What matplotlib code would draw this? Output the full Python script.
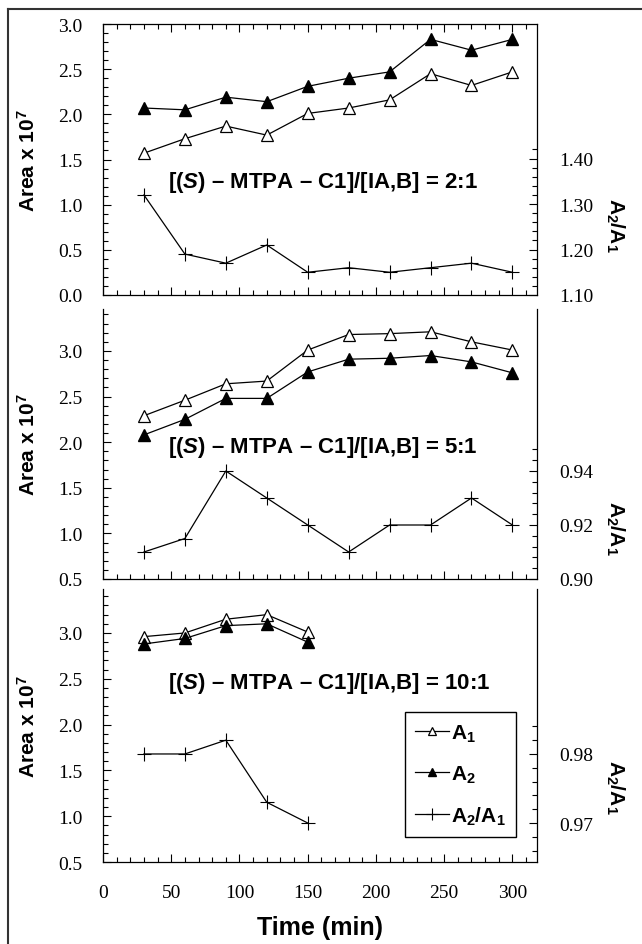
import numpy as np
import matplotlib.pyplot as plt
from matplotlib.lines import Line2D
from matplotlib.ticker import MultipleLocator, FixedLocator

plt.rcParams['mathtext.fontset'] = 'custom'
plt.rcParams['mathtext.rm'] = 'Liberation Sans:bold'
plt.rcParams['mathtext.it'] = 'Liberation Sans:italic:bold'
plt.rcParams['mathtext.bf'] = 'Liberation Sans:bold'

# data
time = [30, 60, 90, 120, 150, 180, 210, 240, 270, 300]
time_short = [30, 60, 90, 120, 150]

p1_a1 = [1.57, 1.73, 1.87, 1.77, 2.01, 2.07, 2.16, 2.45, 2.32, 2.47]
p1_a2 = [2.07, 2.05, 2.19, 2.14, 2.31, 2.40, 2.47, 2.83, 2.71, 2.83]
p1_ratio = [1.32, 1.19, 1.17, 1.21, 1.15, 1.16, 1.15, 1.16, 1.17, 1.15]

p2_a1 = [2.29, 2.46, 2.64, 2.67, 3.01, 3.18, 3.19, 3.21, 3.10, 3.01]
p2_a2 = [2.08, 2.25, 2.48, 2.48, 2.77, 2.91, 2.92, 2.95, 2.88, 2.76]
p2_ratio = [0.910, 0.915, 0.940, 0.930, 0.920, 0.910, 0.920, 0.920, 0.930, 0.920]

p3_a1 = [2.96, 3.00, 3.15, 3.20, 3.01]
p3_a2 = [2.88, 2.94, 3.08, 3.10, 2.90]
p3_ratio = [0.980, 0.980, 0.982, 0.973, 0.970]

labels = [r'[($\mathit{S}$) – MTPA – C1]/[IA,B] = 2:1',
          r'[($\mathit{S}$) – MTPA – C1]/[IA,B] = 5:1',
          r'[($\mathit{S}$) – MTPA – C1]/[IA,B] = 10:1']

W, H = 642, 945
fig = plt.figure(figsize=(W / 100, H / 100), dpi=100)

serif = 'Liberation Serif'
sans = 'Liberation Sans'

# panel boxes in pixels: (top, bottom)
boxes = [(25, 296), (310, 580), (590, 863)]
left_px, right_px = 103, 537

ylims = [(0.0, 3.0), (0.5, 3.46), (0.5, 3.48)]
rlims = [(1.10, 1.696), (0.90, 1.0), (0.96435, 1.0039)]
rmajor = [[1.10, 1.20, 1.30, 1.40], [0.90, 0.92, 0.94], [0.97, 0.98]]
rminor = [np.arange(1.10, 1.4201, 0.02), np.arange(0.90, 0.9481, 0.004),
          np.arange(0.964, 0.9841, 0.002)]
text_y = [0.417, 0.489, 0.659]
rlabel_y = [0.262, 0.193, 0.278]

a1s = [p1_a1, p2_a1, p3_a1]
a2s = [p1_a2, p2_a2, p3_a2]
ratios = [p1_ratio, p2_ratio, p3_ratio]
xs = [time, time, time_short]

for i in range(3):
    top, bot = boxes[i]
    ax = fig.add_axes([left_px / W, 1 - bot / H, (right_px - left_px) / W, (bot - top) / H])
    ax2 = ax.twinx()

    l1, = ax.plot(xs[i], a1s[i], color='black', lw=0.9, marker='^', ms=8,
                  mfc='white', mec='black', mew=0.9)
    l2, = ax.plot(xs[i], a2s[i], color='black', lw=0.9, marker='^', ms=8,
                  mfc='black', mec='black')
    l3, = ax2.plot(xs[i], ratios[i], color='black', lw=0.9, marker='+', ms=10, mew=0.8)

    ax.set_xlim(0, 318)
    ax.set_ylim(*ylims[i])
    ax2.set_ylim(*rlims[i])

    ax.xaxis.set_major_locator(MultipleLocator(50))
    ax.xaxis.set_minor_locator(MultipleLocator(10))
    ax.yaxis.set_minor_locator(MultipleLocator(0.1))
    yt = np.arange(ylims[i][0], 3.01, 0.5)
    ax.set_yticks(yt)
    ax.set_yticklabels(['%.1f' % v for v in yt], family=serif, fontsize=14)

    ax.tick_params(which='both', direction='in', top=(i == 0), right=False,
                   width=0.8)
    ax.tick_params(which='major', length=6)
    ax.tick_params(which='minor', length=3.5)
    ax.tick_params(axis='y', pad=15)
    ax.tick_params(axis='x', pad=16)

    ax2.yaxis.set_major_locator(FixedLocator(rmajor[i]))
    ax2.yaxis.set_minor_locator(FixedLocator(rminor[i]))
    ax2.set_yticklabels(['%.2f' % v for v in rmajor[i]], family=serif, fontsize=14)
    ax2.tick_params(which='both', direction='in', width=0.8)
    ax2.tick_params(which='major', length=6, pad=16)
    ax2.tick_params(which='minor', length=3.5)

    for s in ax2.spines.values():
        s.set_visible(False)
    for s in ax.spines.values():
        s.set_linewidth(0.9)
    if i > 0:
        ax.spines['top'].set_visible(False)

    if i < 2:
        ax.set_xticklabels([])
    else:
        ax.set_xticks([0, 50, 100, 150, 200, 250, 300])
        ax.set_xticklabels(['0', '50', '100', '150', '200', '250', '300'],
                           family=serif, fontsize=14)
        ax.set_xlabel('Time (min)', family=sans, fontweight='bold', fontsize=18,
                      labelpad=10)

    ax.set_ylabel(r'Area x 10$^7$', family=sans, fontweight='bold', fontsize=15)
    ax.yaxis.set_label_coords(-0.147, 0.5)
    ax2.set_ylabel(r'$\mathrm{A}_2$/$\mathrm{A}_1$', family=sans, fontweight='bold',
                   fontsize=15, rotation=-90, va='center')
    ax2.yaxis.set_label_coords(1.18, rlabel_y[i])

    ax.text(0.15, text_y[i], labels[i], transform=ax.transAxes, family=sans,
            fontweight='bold', fontsize=16, va='center', ha='left')

    if i == 2:
        leg = ax.legend([l1, l2, l3],
                        [r'$\mathrm{A}_1$', r'$\mathrm{A}_2$', r'$\mathrm{A}_2$/$\mathrm{A}_1$'],
                        loc='upper left', bbox_to_anchor=(0.696, 0.549),
                        prop={'family': sans, 'weight': 'bold', 'size': 15},
                        handlelength=1.6, handletextpad=0.1, labelspacing=0.95,
                        borderpad=0.5, fancybox=False, edgecolor='black',
                        framealpha=1, borderaxespad=0, markerscale=0.8)
        leg.get_frame().set_linewidth(1.0)

# outer frame of the scan (top and left edges)
fig.add_artist(Line2D([8 / W, 8 / W], [0, 1 - 10 / H], color='#333333', lw=1.5))
fig.add_artist(Line2D([8 / W, 1], [1 - 10 / H, 1 - 10 / H], color='#333333', lw=1.5))

fig.savefig('out.png', dpi=100)
